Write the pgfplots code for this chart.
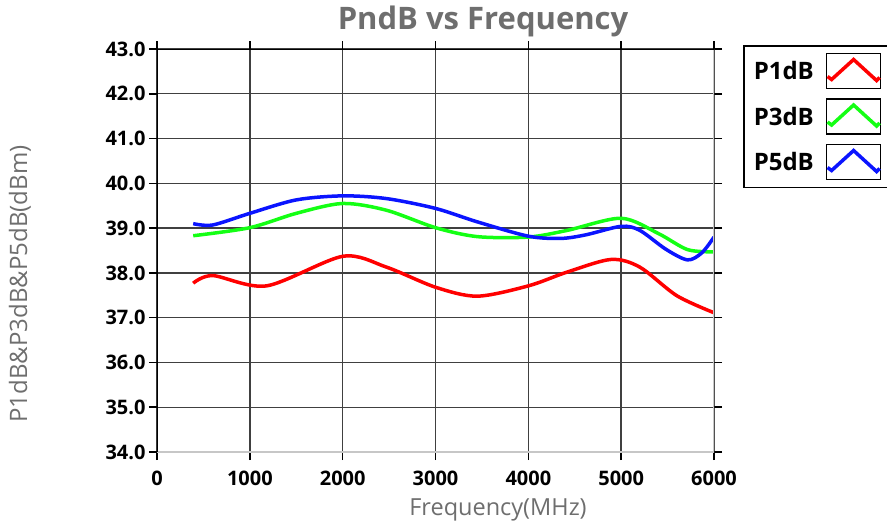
\documentclass[border=0pt]{standalone}
\usepackage{fontspec}
\setmainfont{Open Sans}
\usepackage{pgfplots}
\pgfplotsset{compat=1.18}
\definecolor{tgray}{RGB}{110,110,110}
\definecolor{cred}{RGB}{255,0,0}
\definecolor{cgreen}{RGB}{20,255,20}
\definecolor{cblue}{RGB}{10,20,255}
\begin{document}
\begin{tikzpicture}
\useasboundingbox (-157bp,-75bp) rectangle (730bp,452bp);
\begin{axis}[
  at={(0,0)}, anchor=south west,
  scale only axis, width=557bp, height=403bp,
  xmin=0, xmax=6000, ymin=34, ymax=43,
  xtick={0,1000,...,6000}, ytick={34,35,...,43},
  scaled x ticks=false,
  /pgf/number format/assume math mode=true,
  xticklabel style={/pgf/number format/1000 sep={}, yshift=-7bp},
  yticklabel style={/pgf/number format/fixed, /pgf/number format/fixed zerofill, /pgf/number format/precision=1},
  tick label style={font=\bfseries\fontsize{20bp}{22bp}\selectfont, black},
  tick align=outside, major tick length=8bp,
  tick style={black, line width=1.5bp},
  grid=major, major grid style={color=black!75, line width=1.4bp},
  axis line style={draw=none},
  legend plot pos=right,
  legend cell align=left,
  legend style={at={(1.0521,1.0099)}, anchor=north west, draw=black, line width=1.5bp,
    font=\bfseries\fontsize{24bp}{26bp}\selectfont, inner xsep=8bp, inner ysep=7bp,
    row sep=9bp, column sep=10bp},
  legend image code/.code={
    \draw[black, line width=1.5bp, fill=white] (0bp,-17bp) rectangle (54bp,18bp);
    \draw[#1, sharp plot] (1bp,-5bp) -- (5bp,-8bp) -- (27bp,12bp) -- (50bp,-9bp) -- (53bp,-6bp);
  },
  clip=true,
]
\addplot[cred, line width=3.5bp, smooth] coordinates {
(390,37.77) (600,37.94) (1180,37.71) (2000,38.37) (2470,38.13) (3000,37.68) (3450,37.48)
(4000,37.71) (4420,38.02) (4890,38.30) (5200,38.13) (5600,37.49) (6000,37.11)};
\addlegendentry{P1dB}
\addplot[cgreen, line width=3.5bp, smooth] coordinates {
(390,38.83) (1000,39.01) (1500,39.33) (2000,39.55) (2470,39.40) (3000,39.01) (3450,38.81)
(4000,38.80) (4420,38.95) (5000,39.22) (5400,38.88) (5715,38.52) (6000,38.47)};
\addlegendentry{P3dB}
\addplot[cblue, line width=3.5bp, smooth] coordinates {
(390,39.10) (600,39.07) (1000,39.33) (1500,39.63) (2000,39.72) (2470,39.66) (3000,39.44)
(3450,39.14) (4000,38.82) (4350,38.77) (4620,38.85) (5000,39.04) (5200,38.95) (5480,38.53)
(5715,38.29) (5870,38.45) (6000,38.80)};
\addlegendentry{P5dB}
\draw[black!22, line width=1.6bp] (rel axis cs:0,0) -- (rel axis cs:1,0) -- (rel axis cs:1,1);
\draw[black, line width=1.6bp] (rel axis cs:0,0) -- (rel axis cs:0,1) -- (rel axis cs:1,1);
\end{axis}
\node[text=tgray, font=\bfseries\fontsize{31bp}{34bp}\selectfont] at (326bp,431bp) {PndB vs Frequency};
\node[text=tgray, font=\fontsize{23.5bp}{26bp}\selectfont] at (341bp,-58bp) {Frequency(MHz)};
\node[text=tgray, font=\fontsize{24bp}{26bp}\selectfont, rotate=90] at (-137bp,168bp) {P1dB\&P3dB\&P5dB(dBm)};
\end{tikzpicture}
\end{document}
